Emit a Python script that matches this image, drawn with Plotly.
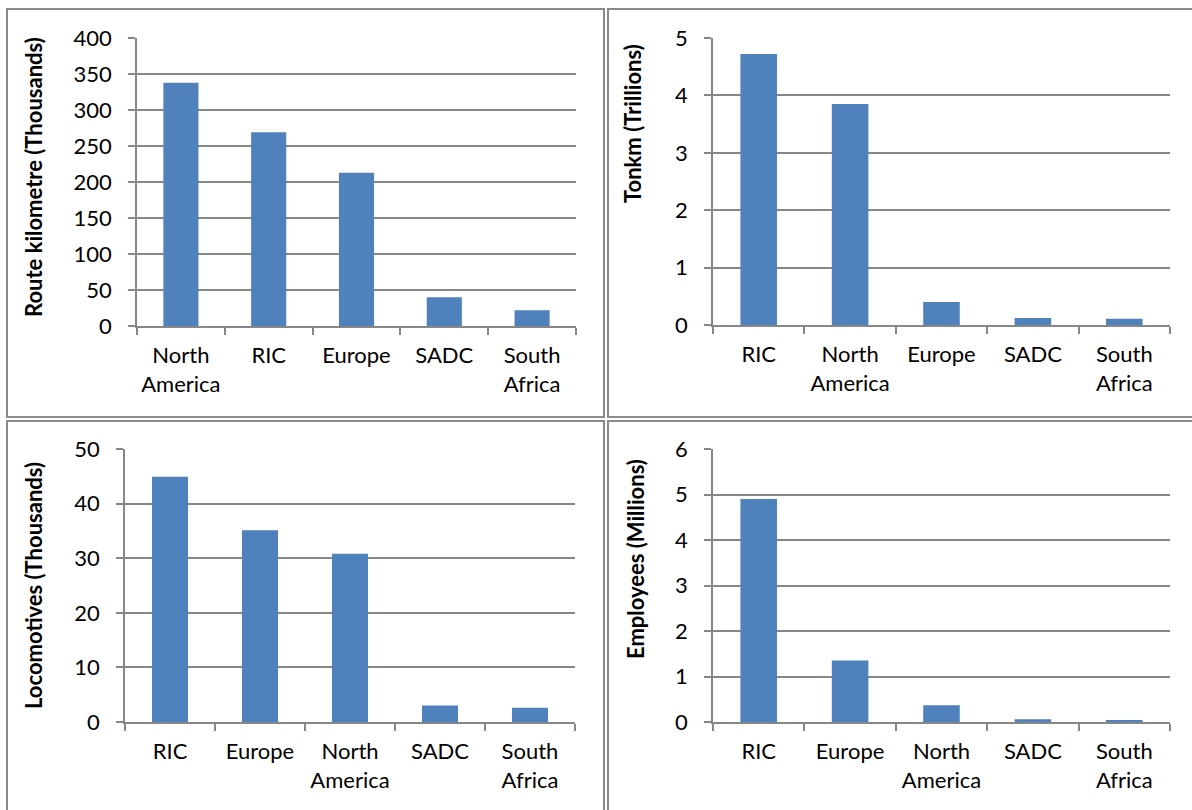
import plotly.graph_objects as go

W, H = 1192, 810

# Panel data: categories are sorted by value within each panel
route_regions = ["North America", "RIC", "Europe", "SADC", "South Africa"]
route_km_thousands = [338, 269, 213, 40, 22]

tonkm_regions = ["RIC", "North America", "Europe", "SADC", "South Africa"]
tonkm_trillions = [4.72, 3.85, 0.40, 0.12, 0.11]

loco_regions = ["RIC", "Europe", "North America", "SADC", "South Africa"]
locomotives_thousands = [44.9, 35.1, 30.8, 3.0, 2.6]

staff_regions = ["RIC", "Europe", "North America", "SADC", "South Africa"]
employees_millions = [4.90, 1.35, 0.37, 0.06, 0.03]

y_titles = ["Route kilometre (Thousands)", "Tonkm (Trillions)",
            "Locomotives (Thousands)", "Employees (Millions)"]
y_ranges = [(0, 400, 50), (0, 5, 1), (0, 50, 10), (0, 6, 1)]

BAR = "#4F81BD"
GRID = "#878787"
FONT = "Lato, Calibri, Carlito, sans-serif"


def px_x(v):
    return v / W


def px_y(v):
    return 1 - v / H


# plot-area boxes in page pixels: (left, right, top, bottom)
boxes = [(137, 576, 38, 326), (713, 1170, 38, 325),
         (125, 575, 449, 722), (713, 1170, 449, 722)]
# centre of each rotated axis title (x, y) in page pixels
title_pos = [(33, 177), (632, 124), (33, 586), (635, 559)]

panels = [(route_regions, route_km_thousands), (tonkm_regions, tonkm_trillions),
          (loco_regions, locomotives_thousands), (staff_regions, employees_millions)]

fig = go.Figure()
layout = dict(width=W, height=H, margin=dict(l=0, r=0, t=0, b=0, pad=0),
              autosize=False,
              paper_bgcolor="white", plot_bgcolor="white", showlegend=False,
              font=dict(family=FONT, color="black"))

annotations = []
for i, ((cats, vals), box, (lo, hi, step)) in enumerate(zip(panels, boxes, y_ranges)):
    n = "" if i == 0 else str(i + 1)
    labels = [c.replace(" ", "<br>") for c in cats]
    fig.add_trace(go.Bar(x=labels, y=vals, marker=dict(color=BAR, line=dict(width=0)),
                         xaxis="x" + n, yaxis="y" + n, width=0.4))
    left, right, top, bottom = box
    layout["xaxis" + n] = dict(
        domain=[px_x(left), px_x(right)], anchor="y" + n, type="category",
        range=[-0.5, 4.5], showline=True, linecolor=GRID, linewidth=1.5,
        ticks="outside", ticklen=7, tickwidth=1.5, tickcolor=GRID,
        tickson="boundaries", showgrid=False, automargin=False, tickangle=0,
        tickfont=dict(family=FONT, size=22, color="black"),
        ticklabelstandoff=9, fixedrange=True)
    layout["yaxis" + n] = dict(
        domain=[px_y(bottom), px_y(top)], anchor="x" + n, automargin=False,
        range=[lo, hi], tickmode="linear", tick0=lo, dtick=step,
        showline=True, linecolor=GRID, linewidth=1.5,
        ticks="outside", ticklen=7, tickwidth=1.5, tickcolor=GRID,
        showgrid=True, gridcolor=GRID, gridwidth=1.5, zeroline=False,
        tickfont=dict(family=FONT, size=22, color="black"),
        ticklabelstandoff=12, fixedrange=True)
    tx, ty = title_pos[i]
    annotations.append(dict(
        text="<b>" + y_titles[i] + "</b>", x=px_x(tx), y=px_y(ty),
        xref="paper", yref="paper", textangle=-90, showarrow=False,
        xanchor="center", yanchor="middle",
        font=dict(family=FONT, size=22, color="black")))

# frames around the four chart panels
frames = [(7, 9, 604, 417), (608, 9, 1200, 417),
          (7, 421, 604, 830), (608, 421, 1200, 830)]
shapes = [dict(type="rect", xref="paper", yref="paper",
               x0=px_x(a), y0=px_y(b), x1=px_x(c), y1=px_y(d),
               line=dict(color="#8a8a8a", width=2), fillcolor="rgba(0,0,0,0)")
          for a, b, c, d in frames]

layout["annotations"] = annotations
layout["shapes"] = shapes
fig.update_layout(**layout)
fig.write_html("out.html", config={"displayModeBar": False},
               post_script="document.body.style.margin='0';")
